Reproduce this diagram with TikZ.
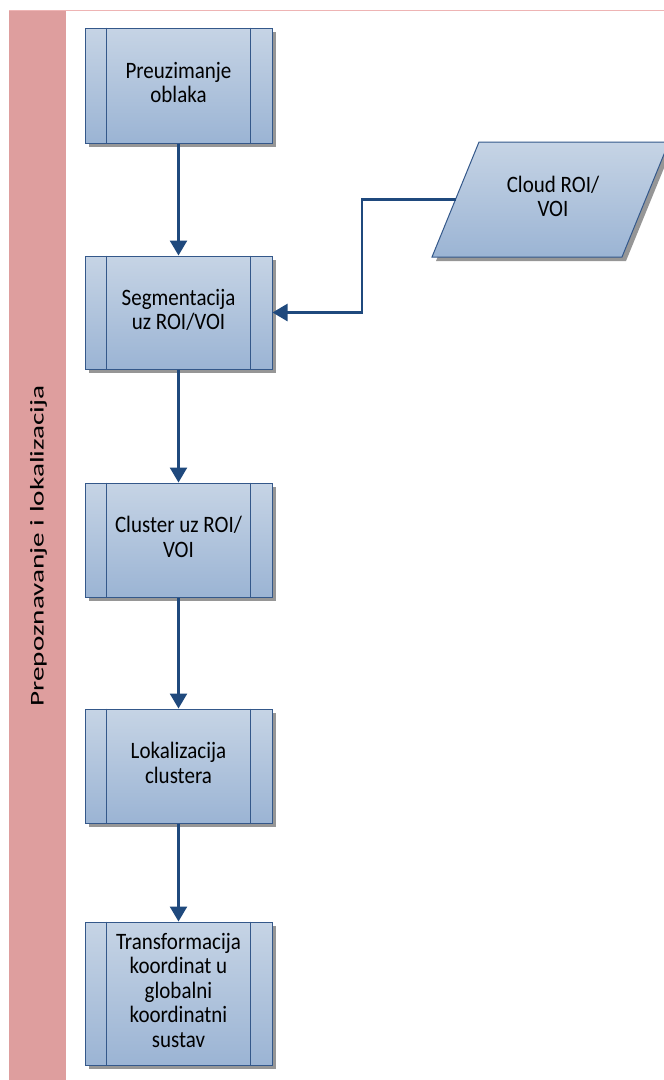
\documentclass[tikz,border=0pt]{standalone}
\usepackage{fontspec}
\newfontfamily\carlito{Carlito}
\usetikzlibrary{arrows.meta,shadows,calc}
\definecolor{lanepink}{RGB}{222,158,158}
\definecolor{linepink}{RGB}{238,180,180}
\definecolor{boxtop}{RGB}{198,212,229}
\definecolor{boxbot}{RGB}{155,180,212}
\definecolor{boxline}{RGB}{52,88,138}
\definecolor{arrowblue}{RGB}{31,73,125}
\definecolor{shadowgray}{RGB}{150,150,150}
\newcommand{\bxt}[1]{\scalebox{1}[1.12]{\begin{tabular}{@{}c@{}}#1\end{tabular}}}
\tikzset{
  procbox/.style={draw=boxline, line width=1pt, top color=boxtop, bottom color=boxbot,
    minimum width=187pt, inner sep=0pt, align=center,
    font=\carlito\fontsize{21}{21.9}\selectfont,
    drop shadow={shadow xshift=4pt, shadow yshift=-4pt, fill=shadowgray, opacity=1}},
  flowarrow/.style={draw=arrowblue, line width=2.5pt, -{Triangle[width=17pt,length=15pt]}},
  innerline/.style={draw=boxline, line width=1pt},
  boxtext/.style={align=center, inner sep=0pt, font=\carlito\fontsize{21}{21.9}\selectfont}
}
\begin{document}
\begin{tikzpicture}[x=1pt,y=-1pt]
\useasboundingbox (0,0) rectangle (664,1080);
% pool
\fill[lanepink] (9,10) rectangle (65.5,1080);
\draw[linepink, line width=1pt] (9,10) -- (664,10);
\node[rotate=90, inner sep=0pt, font=\carlito\fontsize{19.5}{22}\selectfont] (lane) at (38.5,546)
  {\scalebox{1.5}[1]{Prepoznavanje i lokalizacija}};
% process boxes
\node[procbox, minimum height=115pt] (b1) at (178.5,85.5) {\bxt{Preuzimanje\\oblaka}};
\node[procbox, minimum height=113pt] (b2) at (178.5,312.5) {\bxt{Segmentacija\\uz ROI/VOI}};
\node[procbox, minimum height=114pt] (b3) at (178.5,540) {\bxt{Cluster uz ROI/\\VOI}};
\node[procbox, minimum height=114pt] (b4) at (178.5,766) {\bxt{Lokalizacija\\clustera}};
\node[procbox, minimum height=143pt] (b5) at (178.5,993.5) {\bxt{Transformacija\\koordinat u\\globalni\\koordinatni\\sustav}};
\foreach \b in {b1,b2,b3,b4,b5}{
  \draw[innerline] ([xshift=22pt]\b.north west) -- ([xshift=22pt]\b.south west);
  \draw[innerline] ([xshift=-22pt]\b.north east) -- ([xshift=-22pt]\b.south east);
}
% data (parallelogram)
\fill[shadowgray] (483,146) -- (673,146) -- (626,261) -- (436,261) -- cycle;
\shade[top color=boxtop, bottom color=boxbot, draw=boxline, line width=1pt]
  (479,142) -- (669,142) -- (622,257) -- (432,257) -- cycle;
\node[boxtext] (cloud) at (553,199.5) {\bxt{Cloud ROI/\\VOI}};
\coordinate (cloudL) at (455.5,199.5);
% connectors
\draw[flowarrow] (b1) -- (b2);
\draw[flowarrow] (b2) -- (b3);
\draw[flowarrow] (b3) -- (b4);
\draw[flowarrow] (b4) -- (b5);
\draw[flowarrow] (cloudL) -- ++(-93.5,0) |- (b2.east);
\end{tikzpicture}
\end{document}
